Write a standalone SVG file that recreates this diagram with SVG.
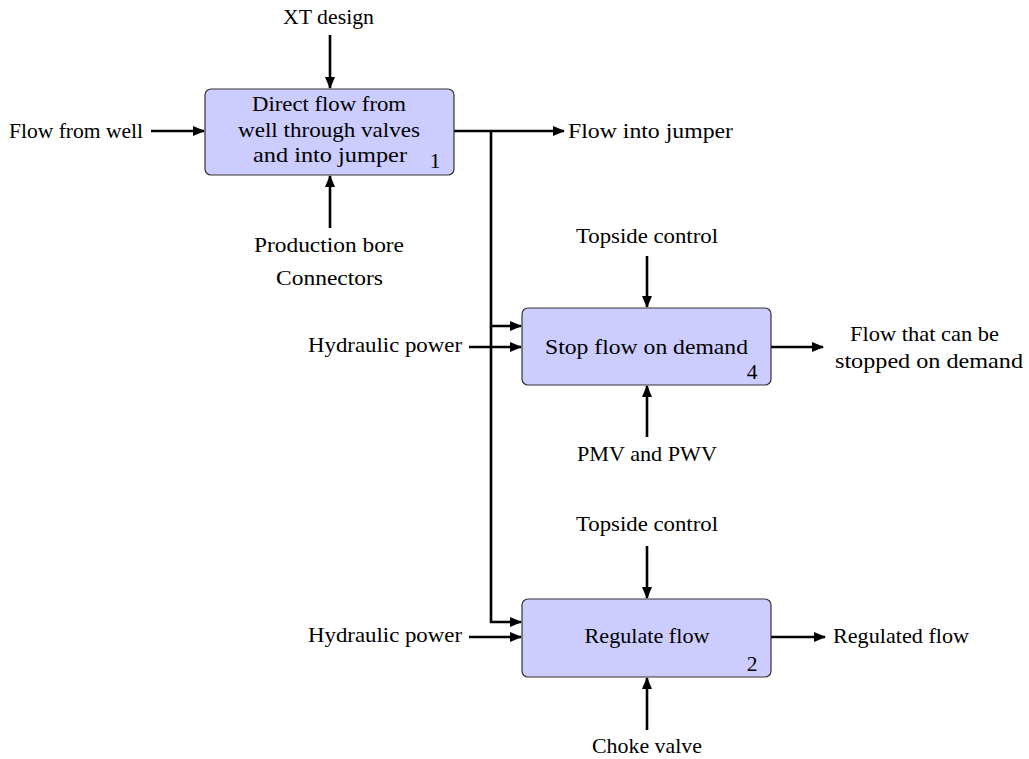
<svg xmlns="http://www.w3.org/2000/svg" width="1029" height="759" viewBox="0 0 1029 759">
<style>
text{font-family:"Liberation Serif","Times New Roman",serif;font-size:21.5px;fill:#000}
.c{text-anchor:middle}
.e{text-anchor:end}
.box{fill:#ccccff;stroke:#333;stroke-width:1.2}
.ln{fill:none;stroke:#000;stroke-width:2.6}
</style>
<defs>
<marker id="ah" viewBox="0 0 12 10" refX="11" refY="5" markerWidth="12" markerHeight="10" markerUnits="userSpaceOnUse" orient="auto">
<path d="M0,0 L12,5 L0,10 z" fill="#000"/>
</marker>
</defs>
<rect width="1029" height="759" fill="#fff"/>
<g id="connectors">
<line class="ln" x1="330" y1="35" x2="330" y2="88" marker-end="url(#ah)"/>
<line class="ln" x1="151" y1="131" x2="204" y2="131" marker-end="url(#ah)"/>
<line class="ln" x1="330" y1="228" x2="330" y2="176" marker-end="url(#ah)"/>
<line class="ln" x1="454" y1="131" x2="564" y2="131" marker-end="url(#ah)"/>
<polyline class="ln" points="491,131 491,326 521,326" marker-end="url(#ah)"/>
<polyline class="ln" points="491,326 491,622 521,622" marker-end="url(#ah)"/>
<line class="ln" x1="647" y1="256" x2="647" y2="307" marker-end="url(#ah)"/>
<line class="ln" x1="647" y1="437" x2="647" y2="386" marker-end="url(#ah)"/>
<line class="ln" x1="469" y1="347" x2="521" y2="347" marker-end="url(#ah)"/>
<line class="ln" x1="771" y1="347" x2="823" y2="347" marker-end="url(#ah)"/>
<line class="ln" x1="647" y1="546" x2="647" y2="598" marker-end="url(#ah)"/>
<line class="ln" x1="647" y1="730" x2="647" y2="678" marker-end="url(#ah)"/>
<line class="ln" x1="469" y1="637" x2="521" y2="637" marker-end="url(#ah)"/>
<line class="ln" x1="771" y1="637" x2="825" y2="637" marker-end="url(#ah)"/>
</g>
<g id="node1">
<rect class="box" x="205" y="89" width="249" height="86" rx="6"/>
<text class="c" x="329" y="111" textLength="154" lengthAdjust="spacingAndGlyphs">Direct flow from</text>
<text class="c" x="329" y="137" textLength="182" lengthAdjust="spacingAndGlyphs">well through valves</text>
<text class="c" x="330" y="162" textLength="154" lengthAdjust="spacingAndGlyphs">and into jumper</text>
<text class="c" x="435" y="168">1</text>
</g>
<g id="node4">
<rect class="box" x="522" y="308" width="249" height="77" rx="6"/>
<text class="c" x="646.5" y="354" textLength="203" lengthAdjust="spacingAndGlyphs">Stop flow on demand</text>
<text class="c" x="752" y="379">4</text>
</g>
<g id="node2">
<rect class="box" x="522" y="599" width="249" height="78" rx="6"/>
<text class="c" x="647" y="643" textLength="125" lengthAdjust="spacingAndGlyphs">Regulate flow</text>
<text class="c" x="752" y="671">2</text>
</g>
<g id="labels">
<text class="c" x="328.5" y="24" textLength="91" lengthAdjust="spacingAndGlyphs">XT design</text>
<text x="9" y="138" textLength="134" lengthAdjust="spacingAndGlyphs">Flow from well</text>
<text class="c" x="329" y="252" textLength="150" lengthAdjust="spacingAndGlyphs">Production bore</text>
<text class="c" x="329.5" y="285" textLength="107" lengthAdjust="spacingAndGlyphs">Connectors</text>
<text x="568" y="138" textLength="165" lengthAdjust="spacingAndGlyphs">Flow into jumper</text>
<text class="c" x="647" y="243" textLength="142" lengthAdjust="spacingAndGlyphs">Topside control</text>
<text class="c" x="647" y="461" textLength="140" lengthAdjust="spacingAndGlyphs">PMV and PWV</text>
<text x="308" y="352" textLength="154" lengthAdjust="spacingAndGlyphs">Hydraulic power</text>
<text x="850" y="341" textLength="149" lengthAdjust="spacingAndGlyphs">Flow that can be</text>
<text x="835" y="368" textLength="188" lengthAdjust="spacingAndGlyphs">stopped on demand</text>
<text class="c" x="647" y="531" textLength="142" lengthAdjust="spacingAndGlyphs">Topside control</text>
<text x="308" y="642" textLength="154" lengthAdjust="spacingAndGlyphs">Hydraulic power</text>
<text class="c" x="647" y="753" textLength="110" lengthAdjust="spacingAndGlyphs">Choke valve</text>
<text x="833" y="643" textLength="136" lengthAdjust="spacingAndGlyphs">Regulated flow</text>
</g>
</svg>
